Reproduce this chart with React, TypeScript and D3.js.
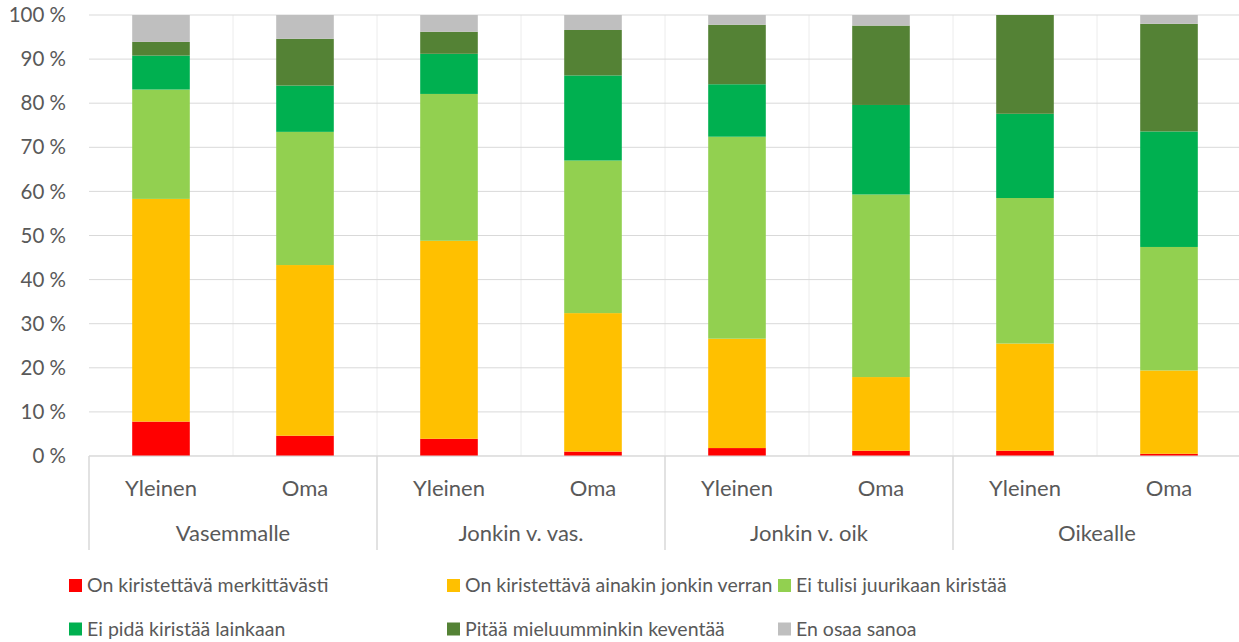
import React from "react";
import * as d3 from "d3";

const groups = ["Vasemmalle", "Jonkin v. vas.", "Jonkin v. oik", "Oikealle"];
const subCats = ["Yleinen", "Oma"];
const seriesNames = [
  "On kiristettävä merkittävästi",
  "On kiristettävä ainakin jonkin verran",
  "Ei tulisi juurikaan kiristää",
  "Ei pidä kiristää lainkaan",
  "Pitää mieluumminkin keventää",
  "En osaa sanoa",
];
const seriesColors = ["#FF0000", "#FFC000", "#92D050", "#00B050", "#548235", "#BFBFBF"];
// values per bar (group x subcat order), percent
const s1 = [7.8, 4.6, 3.9, 1.0, 1.8, 1.2, 1.2, 0.5];
const s2 = [50.5, 38.7, 44.9, 31.4, 24.8, 16.7, 24.3, 18.9];
const s3 = [24.8, 30.2, 33.3, 34.6, 45.8, 41.4, 33.0, 28.0];
const s4 = [7.7, 10.5, 9.1, 19.3, 11.9, 20.3, 19.1, 26.2];
const s5 = [3.1, 10.6, 5.0, 10.3, 13.5, 18.0, 22.4, 24.4];
const s6 = [6.1, 5.4, 3.8, 3.4, 2.2, 2.4, 0.0, 2.0];
const yTicks = [0, 10, 20, 30, 40, 50, 60, 70, 80, 90, 100];

const W = 1239;
const H = 642;
const left = 89;
const right = 1241;
const top = 15;
const bottom = 456;
const font = "Lato, 'Open Sans', sans-serif";
const textColor = "#595959";

export default function App() {
  const allSeries = [s1, s2, s3, s4, s5, s6];
  const barKeys = groups.flatMap((g) => subCats.map((c) => g + "|" + c));
  const x = d3.scaleBand<string>().domain(barKeys).range([left, right]).paddingInner(0.6).paddingOuter(0.3);
  const xg = d3.scaleBand<string>().domain(groups).range([left, right]);
  const y = d3.scaleLinear().domain([0, 100]).range([bottom, top]);

  const rows = barKeys.map((k, i) => {
    const r: any = { key: k };
    seriesNames.forEach((n, j) => (r[n] = allSeries[j][i]));
    return r;
  });
  const stacked = d3.stack<any>().keys(seriesNames)(rows);
  const step = x.step();

  return (
    <svg width={W} height={H} style={{ position: "absolute", left: 0, top: 0, background: "#fff" }}>
      {/* vertical gridlines */}
      {barKeys.slice(1).map((k) => {
        const xx = (x(k) as number) - (step - x.bandwidth()) / 2;
        return <line key={"vg" + k} x1={xx} x2={xx} y1={top} y2={bottom} stroke="#ececec" strokeWidth={1} />;
      })}
      {/* horizontal gridlines */}
      {yTicks.map((t) => (
        <line key={"hg" + t} x1={left} x2={right} y1={y(t)} y2={y(t)} stroke="#d9d9d9" strokeWidth={1} />
      ))}
      {yTicks.map((t) => (
        <text key={"yt" + t} x={66} y={y(t)} dy="0.35em" textAnchor="end" fontFamily={font} fontSize={20.5} fill={textColor}>
          {t} %
        </text>
      ))}
      {/* bars */}
      {stacked.map((layer, j) => (
        <g key={"s" + j} fill={seriesColors[j]}>
          {layer.map((d, i) => (
            <rect key={i} x={x(barKeys[i])} width={x.bandwidth()} y={y(d[1])} height={Math.max(0, y(d[0]) - y(d[1]))} />
          ))}
        </g>
      ))}
      {/* axis line */}
      <line x1={left} x2={right} y1={bottom} y2={bottom} stroke="#d9d9d9" strokeWidth={1} />
      {/* group separators */}
      {groups.map((g) => (
        <line key={"sep" + g} x1={xg(g)} x2={xg(g)} y1={bottom} y2={550} stroke="#d9d9d9" strokeWidth={1.5} />
      ))}
      <line x1={right - 1} x2={right - 1} y1={bottom} y2={550} stroke="#d9d9d9" strokeWidth={1.5} />
      {/* category labels */}
      {barKeys.map((k) => (
        <text key={"cl" + k} x={(x(k) as number) + x.bandwidth() / 2} y={488} dy="0.35em" textAnchor="middle" fontFamily={font} fontSize={22} fill={textColor}>
          {k.split("|")[1]}
        </text>
      ))}
      {groups.map((g) => (
        <text key={"gl" + g} x={(xg(g) as number) + xg.bandwidth() / 2} y={533} dy="0.35em" textAnchor="middle" fontFamily={font} fontSize={22} fill={textColor}>
          {g}
        </text>
      ))}
      {/* legend */}
      {seriesNames.map((n, j) => {
        const col = j % 3;
        const row = Math.floor(j / 3);
        const lx = [69, 447, 778][col];
        const ly = [585.5, 629][row];
        return (
          <g key={"lg" + j}>
            <rect x={lx} y={ly - 6.5} width={13} height={13} fill={seriesColors[j]} />
            <text x={lx + 18} y={ly} dy="0.35em" fontFamily={font} fontSize={19.5} fill={textColor}>
              {n}
            </text>
          </g>
        );
      })}
    </svg>
  );
}
